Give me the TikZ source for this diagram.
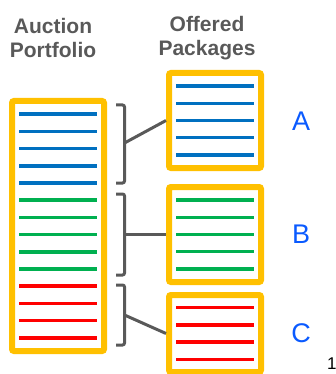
\documentclass[tikz,border=0pt]{standalone}
\usepackage{fontspec}
\setmainfont{Liberation Sans}
\usetikzlibrary{calc}

\definecolor{gold}{RGB}{255,192,0}
\definecolor{lotblue}{RGB}{0,112,192}
\definecolor{lotgreen}{RGB}{0,176,80}
\definecolor{lotred}{RGB}{255,0,0}
\definecolor{darkgray}{RGB}{89,89,89}
\definecolor{pkgblue}{RGB}{10,90,255}

\tikzset{
	box/.style={draw=gold, fill=white, line width=6pt, rounded corners=2pt, inner sep=0pt, minimum width=92pt},
	lot/.style={line width=3.5pt},
	brace/.style={draw=darkgray, line width=3pt, rounded corners=2pt},
	head/.style={text=darkgray, align=center, font=\bfseries\fontsize{21}{23.5}\selectfont},
	pkgname/.style={text=pkgblue, font=\fontsize{27}{30}\selectfont}
}

% lots inside a box: node, number of rows, first, last, colour
\newcommand{\lots}[5]{%
	\foreach \k in {#3,...,#4}
		\draw[lot, #5] ($(#1.center)+(-39,{(\k-(#2+1)/2)*17.2})$) -- ++(78,0);
}

\begin{document}
\begin{tikzpicture}[x=1pt, y=-1pt]
	\useasboundingbox (0,0) rectangle (335,374);
	\node[head] (hdport) at (53,38) {Auction\\Portfolio};
	\node[head] (hdpack) at (207,38) {Offered\\Packages};

	\node[box, minimum height=250pt] (port) at (58,226) {};
	\lots{port}{14}{1}{5}{lotblue}
	\lots{port}{14}{6}{10}{lotgreen}
	\lots{port}{14}{11}{14}{lotred}

	\node[box, minimum height=95pt] (pkgA) at (215,120.5) {};
	\lots{pkgA}{5}{1}{5}{lotblue}
	\node[box, minimum height=95pt] (pkgB) at (215,234.5) {};
	\lots{pkgB}{5}{1}{5}{lotgreen}
	\node[box, minimum height=77pt] (pkgC) at (215,333.5) {};
	\lots{pkgC}{4}{1}{4}{lotred}

	\draw[brace] (116,105) -| (124.5,183) -- (116,183);
	\draw[brace] (116,194) -| (124.5,275) -- (116,275);
	\draw[brace] (116,285) -| (124.5,345) -- (116,345);
	\coordinate (brA) at (124.5,143);
	\coordinate (brB) at (124.5,234.5);
	\coordinate (brC) at (124.5,315);
	\draw[brace] (brA) -- (pkgA.west);
	\draw[brace] (brB) -- (pkgB.west);
	\draw[brace] (brC) -- (pkgC.west);

	\node[pkgname] (nmA) at (301,121.5) {A};
	\node[pkgname] (nmB) at (301,234) {B};
	\node[pkgname] (nmC) at (301,333) {C};
	\node[anchor=west, inner sep=0pt, font=\fontsize{17}{20}\selectfont] (pgnum) at (327,364) {1};
\end{tikzpicture}
\end{document}
